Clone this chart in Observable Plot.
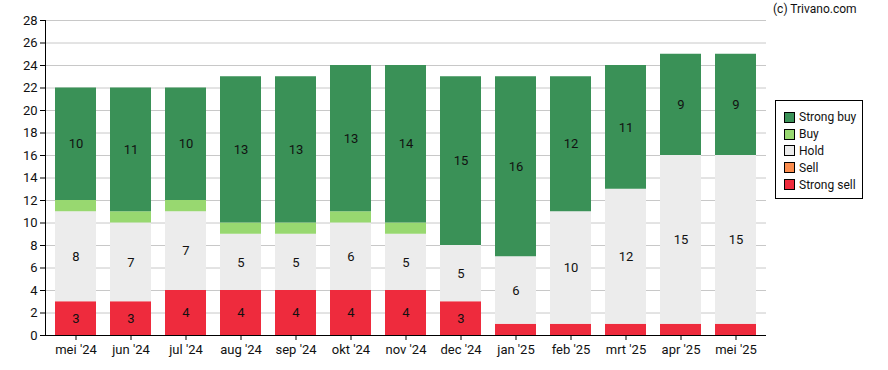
<!DOCTYPE html>
<html><head><meta charset="utf-8">
<script src="https://cdn.jsdelivr.net/npm/d3@7"></script>
<script src="https://cdn.jsdelivr.net/npm/@observablehq/plot@0.6"></script>
<style>
body{margin:0;background:#fff;font-family:Roboto,sans-serif;}
#wrap{position:relative;width:888px;height:370px;}
#copy{position:absolute;left:773px;top:2px;font-size:12px;color:#111;}
#legend{position:absolute;left:775px;top:100px;width:88px;height:99px;border:1px solid #000;box-sizing:border-box;padding:8px 0 0 8px;font-size:12px;color:#111;}
#legend div{display:flex;align-items:center;height:16.8px;}
#legend span.sw{display:inline-block;width:9px;height:9px;border:1px solid #000;margin-right:4px;}
</style></head>
<body><div id="wrap"><div id="copy">(c) Trivano.com</div><div id="legend"></div></div>
<script>
const months = ["mei '24","jun '24","jul '24","aug '24","sep '24","okt '24","nov '24","dec '24","jan '25","feb '25","mrt '25","apr '25","mei '25"];
const strongSell = [3,3,4,4,4,4,4,3,1,1,1,1,1];
const sell       = [0,0,0,0,0,0,0,0,0,0,0,0,0];
const hold       = [8,7,7,5,5,6,5,5,6,10,12,15,15];
const buy        = [1,1,1,1,1,1,1,0,0,0,0,0,0];
const strongBuy  = [10,11,10,13,13,13,14,15,16,12,11,9,9];
const seriesNames = ["Strong sell","Sell","Hold","Buy","Strong buy"];
const seriesColors = ["#ee2b3d","#fa8c4d","#ececec","#98d870","#3a9157"];
const yTicks = [0,2,4,6,8,10,12,14,16,18,20,22,24,26,28];

const seriesVals = [strongSell, sell, hold, buy, strongBuy];
const data = [];
months.forEach((m,i)=>seriesNames.forEach((s,j)=>data.push({month:m, series:s, value:seriesVals[j][i]})));

const chart = Plot.plot({
  width: 888, height: 370,
  marginLeft: 45, marginRight: 122, marginTop: 20, marginBottom: 35,
  style: {fontFamily: "Roboto, sans-serif", fontSize: "13px", color: "#111", background: "transparent"},
  x: {domain: months, paddingInner: 0.26, paddingOuter: 0.145, label: null},
  y: {domain: [0,28], ticks: yTicks, label: null},
  color: {domain: seriesNames, range: seriesColors},
  marks: [
    Plot.gridY(yTicks, {stroke: "#c8c8c8", strokeOpacity: 1}),
    Plot.barY(data, Plot.stackY({x: "month", y: "value", z: "series", fill: "series", order: seriesNames})),
    Plot.text(data, Plot.stackY({x: "month", y: "value", z: "series", order: seriesNames, text: d => d.value > 1 ? String(d.value) : "", fill: "#111", fontSize: 13})),
    Plot.frame({anchor: "left", stroke: "#000"}),
    Plot.ruleY([0], {stroke: "#000"}),
    Plot.axisY({ticks: yTicks, tickSize: 5, tickPadding: 3, label: null, stroke: "#000", fontSize: 13}),
    Plot.axisX({tickSize: 5, tickPadding: 4, label: null, stroke: "#000", fontSize: 13})
  ]
});
document.getElementById("wrap").prepend(chart);
chart.style.position = "absolute"; chart.style.left = "0"; chart.style.top = "0";
const leg = document.getElementById("legend");
["Strong buy","Buy","Hold","Sell","Strong sell"].forEach(s => {
  const d = document.createElement("div");
  d.innerHTML = `<span class="sw" style="background:${seriesColors[seriesNames.indexOf(s)]}"></span>${s}`;
  leg.appendChild(d);
});
</script></body></html>
